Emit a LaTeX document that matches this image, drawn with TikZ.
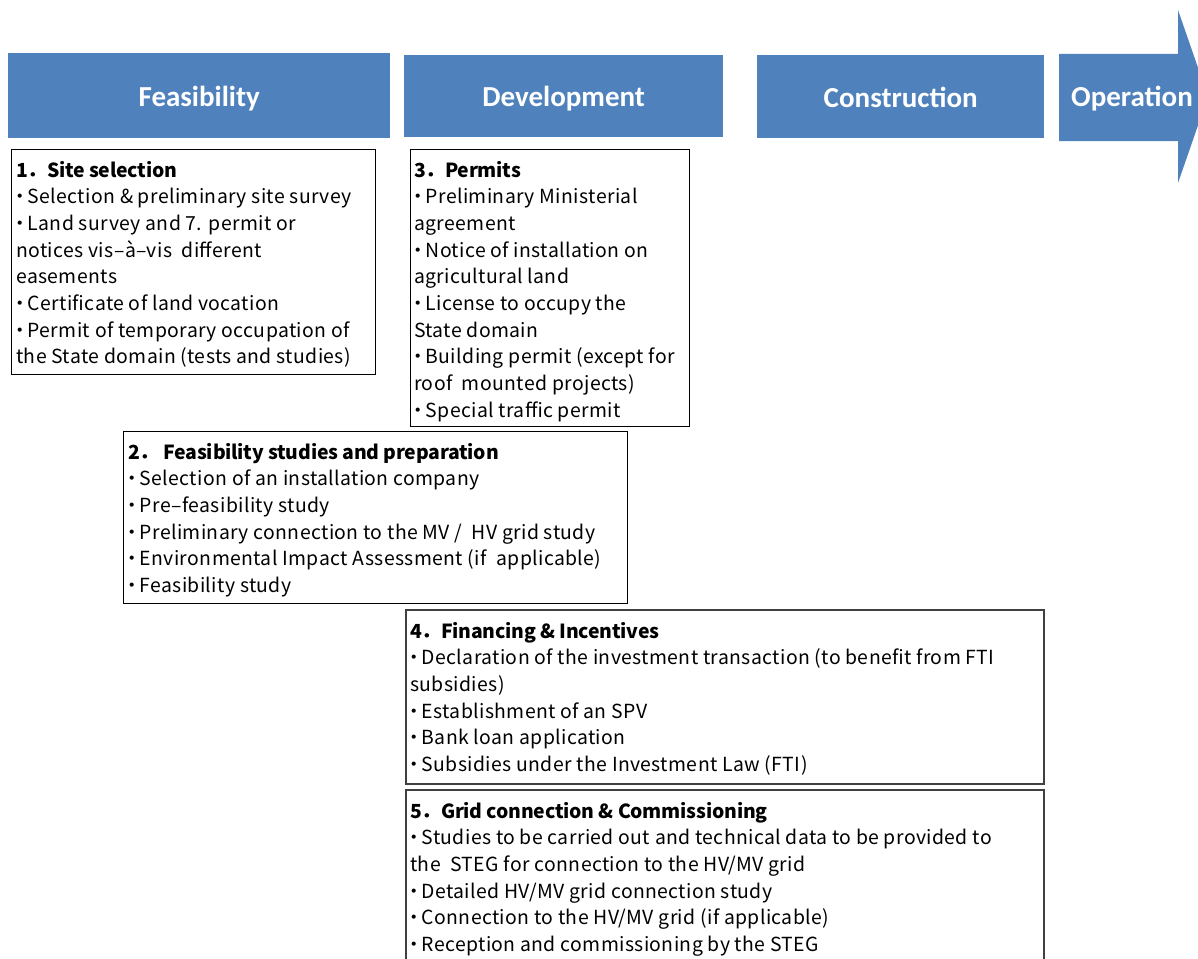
\documentclass[tikz,border=0pt]{standalone}
\usepackage{fontspec}
\setmainfont[LetterSpace=2, BoldFeatures={LetterSpace=-1}]{Noto Sans CJK JP}
\newfontfamily\headfont{Carlito}
\usetikzlibrary{calc}
\definecolor{phaseblue}{HTML}{4F81BD}
\definecolor{framegray}{HTML}{404040}

% narrow bullet: the middle dot set in a slim box
\newcommand\itm{\makebox[11.5pt][l]{\hspace{-6.2pt}・}}
% multi-line box text whose baseline is that of its first line
\newcommand\boxtext[2]{\parbox[t]{#1}{\raggedright\fontsize{19.4}{26.7}\selectfont #2}}

\tikzset{
  headtext/.style={text=white, inner sep=0pt, text height=21pt, text depth=0pt,
    font=\headfont\bfseries\fontsize{29}{34}\selectfont},
  phase/.style={headtext, fill=phaseblue, draw=none, anchor=north west},
  frame/.style={draw=black, line width=1.4pt, anchor=north west, inner sep=0pt},
  grayframe/.style={frame, draw=framegray, line width=1.8pt},
  listtext/.style={anchor=base west, inner sep=0pt, align=left},
}

\begin{document}
\begin{tikzpicture}[x=1pt, y=-1pt]
\useasboundingbox (0,0) rectangle (1198,958);
\clip (0,0) rectangle (1198,958);

% phase headers
\node[phase, minimum width=382pt, minimum height=85pt] (feas) at (8,53) {Feasibility};
\node[phase, minimum width=319pt, minimum height=82pt] (dev) at (404,55) {Development};
\node[phase, minimum width=287pt, minimum height=83pt] (cons) at (757,55) {Construction};
\fill[phaseblue] (1059,54) -- (1178,54) -- (1178,10) -- (1208,96.5)
  -- (1178,183) -- (1178,141) -- (1059,141) -- cycle;
\node[headtext] (oper) at (1132,96) {Operation};

% 1. Site selection
\node[frame, minimum width=364pt, minimum height=225pt] (b1) at (11,149) {};
\node[listtext] (t1) at ($(b1.north west)+(5,28)$) {\boxtext{360pt}{%
  {\bfseries 1．Site selection}\\
  \itm Selection \& preliminary site survey\\
  \itm Land survey and 7. permit or\\
  notices vis–à–vis\ \ different\\
  easements\\
  \itm Certificate of land vocation\\
  \itm Permit of temporary occupation of\\
  the State domain (tests and studies)}};

% 3. Permits
\node[frame, minimum width=279pt, minimum height=277pt] (b3) at (410,149) {};
\node[listtext] (t3) at ($(b3.north west)+(4,28)$) {\boxtext{275pt}{%
  {\bfseries 3．Permits}\\
  \itm Preliminary Ministerial\\
  agreement\\
  \itm Notice of installation on\\
  agricultural land\\
  \itm License to occupy the\\
  State domain\\
  \itm Building permit (except for\\
  roof\ \ mounted projects)\\
  \itm Special traffic permit}};

% 2. Feasibility studies and preparation
\node[frame, minimum width=504pt, minimum height=172pt] (b2) at (123,431) {};
\node[listtext] (t2) at ($(b2.north west)+(5,28)$) {\boxtext{500pt}{%
  {\bfseries 2．\ Feasibility studies and preparation}\\
  \itm Selection of an installation company\\
  \itm Pre–feasibility study\\
  \itm Preliminary connection to the MV /\ \ HV grid study\\
  \itm Environmental Impact Assessment (if\ \ applicable)\\
  \itm Feasibility study}};

% 4. Financing & Incentives
\node[grayframe, minimum width=638pt, minimum height=174pt] (b4) at (405,609) {};
\node[listtext] (t4) at ($(b4.north west)+(5,29)$) {\boxtext{630pt}{%
  {\bfseries 4．Financing \& Incentives}\\
  \itm Declaration of the investment transaction (to benefit from FTI\\
  subsidies)\\
  \itm Establishment of an SPV\\
  \itm Bank loan application\\
  \itm Subsidies under the Investment Law (FTI)}};

% 5. Grid connection & Commissioning
\node[grayframe, minimum width=638pt, minimum height=200pt] (b5) at (405,789) {};
\node[listtext] (t5) at ($(b5.north west)+(5,29)$) {\boxtext{630pt}{%
  {\bfseries 5．Grid connection \& Commissioning}\\
  \itm Studies to be carried out and technical data to be provided to\\
  the\ \ STEG for connection to the HV/MV grid\\
  \itm Detailed HV/MV grid connection study\\
  \itm Connection to the HV/MV grid (if applicable)\\
  \itm Reception and commissioning by the STEG}};
\end{tikzpicture}
\end{document}
